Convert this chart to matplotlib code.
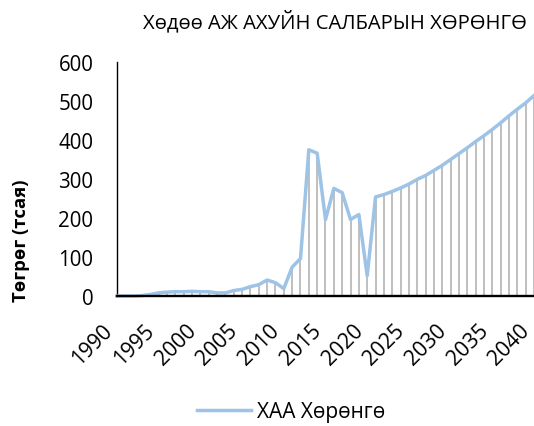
import matplotlib
matplotlib.use("Agg")
import matplotlib.pyplot as plt


YEARS = list(range(1990, 2041))
ASSETS = [
    0, 0, 0, 1, 4, 8, 10, 11, 11, 12,
    11, 11, 8, 8, 14, 17, 24, 29, 41, 34,
    19, 74, 96, 375, 366, 196, 276, 265, 196, 209,
    52, 254, 260, 268, 277, 287, 299, 309, 322, 335,
    350, 365, 380, 396, 411, 427, 444, 462, 479, 495,
    514,
]
TICK_YEARS = list(range(1990, 2041, 5))
Y_TICKS = [0, 100, 200, 300, 400, 500, 600]

TITLE = "Хөдөө АЖ АХУЙН САЛБАРЫН ХӨРӨНГӨ"
Y_LABEL = "Төгрөг (тсая)"
SERIES = "ХАА Хөрөнгө"

plt.rcParams["font.family"] = ["Open Sans", "DejaVu Sans"]

fig = plt.figure(figsize=(5.34, 4.27), dpi=100)
ax = fig.add_axes([117 / 534, 1 - 297 / 427, 1 - 117 / 534, (297 - 63) / 427])

ax.vlines(YEARS, 0, ASSETS, color="#BFBFBF", lw=1.4, zorder=1)
line, = ax.plot(YEARS, ASSETS, color="#9DC3E6", lw=2.5, zorder=3, clip_on=False)

ax.set_xlim(1990, 2040)
ax.set_ylim(0, 600)
ax.set_yticks(Y_TICKS)
ax.set_xticks(TICK_YEARS)
ax.set_xticklabels([str(y) for y in TICK_YEARS], rotation=45, ha="right", va="top")
ax.tick_params(axis="y", length=0, pad=17, labelsize=14.8)
ax.tick_params(axis="x", length=0, pad=17, labelsize=15.2)

for side in ["top", "right"]:
    ax.spines[side].set_visible(False)
ax.spines["left"].set_color("black")
ax.spines["left"].set_linewidth(1.0)
ax.spines["bottom"].set_color("black")
ax.spines["bottom"].set_linewidth(1.7)
ax.spines["bottom"].set_zorder(4)

fig.text(335 / 534, 1 - 22 / 427, TITLE, ha="center", va="center", fontsize=14.6)
fig.text(21 / 534, 1 - 241 / 427, Y_LABEL, rotation=90, ha="center", va="center",
         fontsize=13.3, fontweight="bold")

fig.legend([line], [SERIES], loc="center", bbox_to_anchor=(291 / 534, 1 - 413 / 427),
           frameon=False, fontsize=15, handlelength=2.6, handletextpad=0.3)

fig.savefig("out.png", dpi=100)
